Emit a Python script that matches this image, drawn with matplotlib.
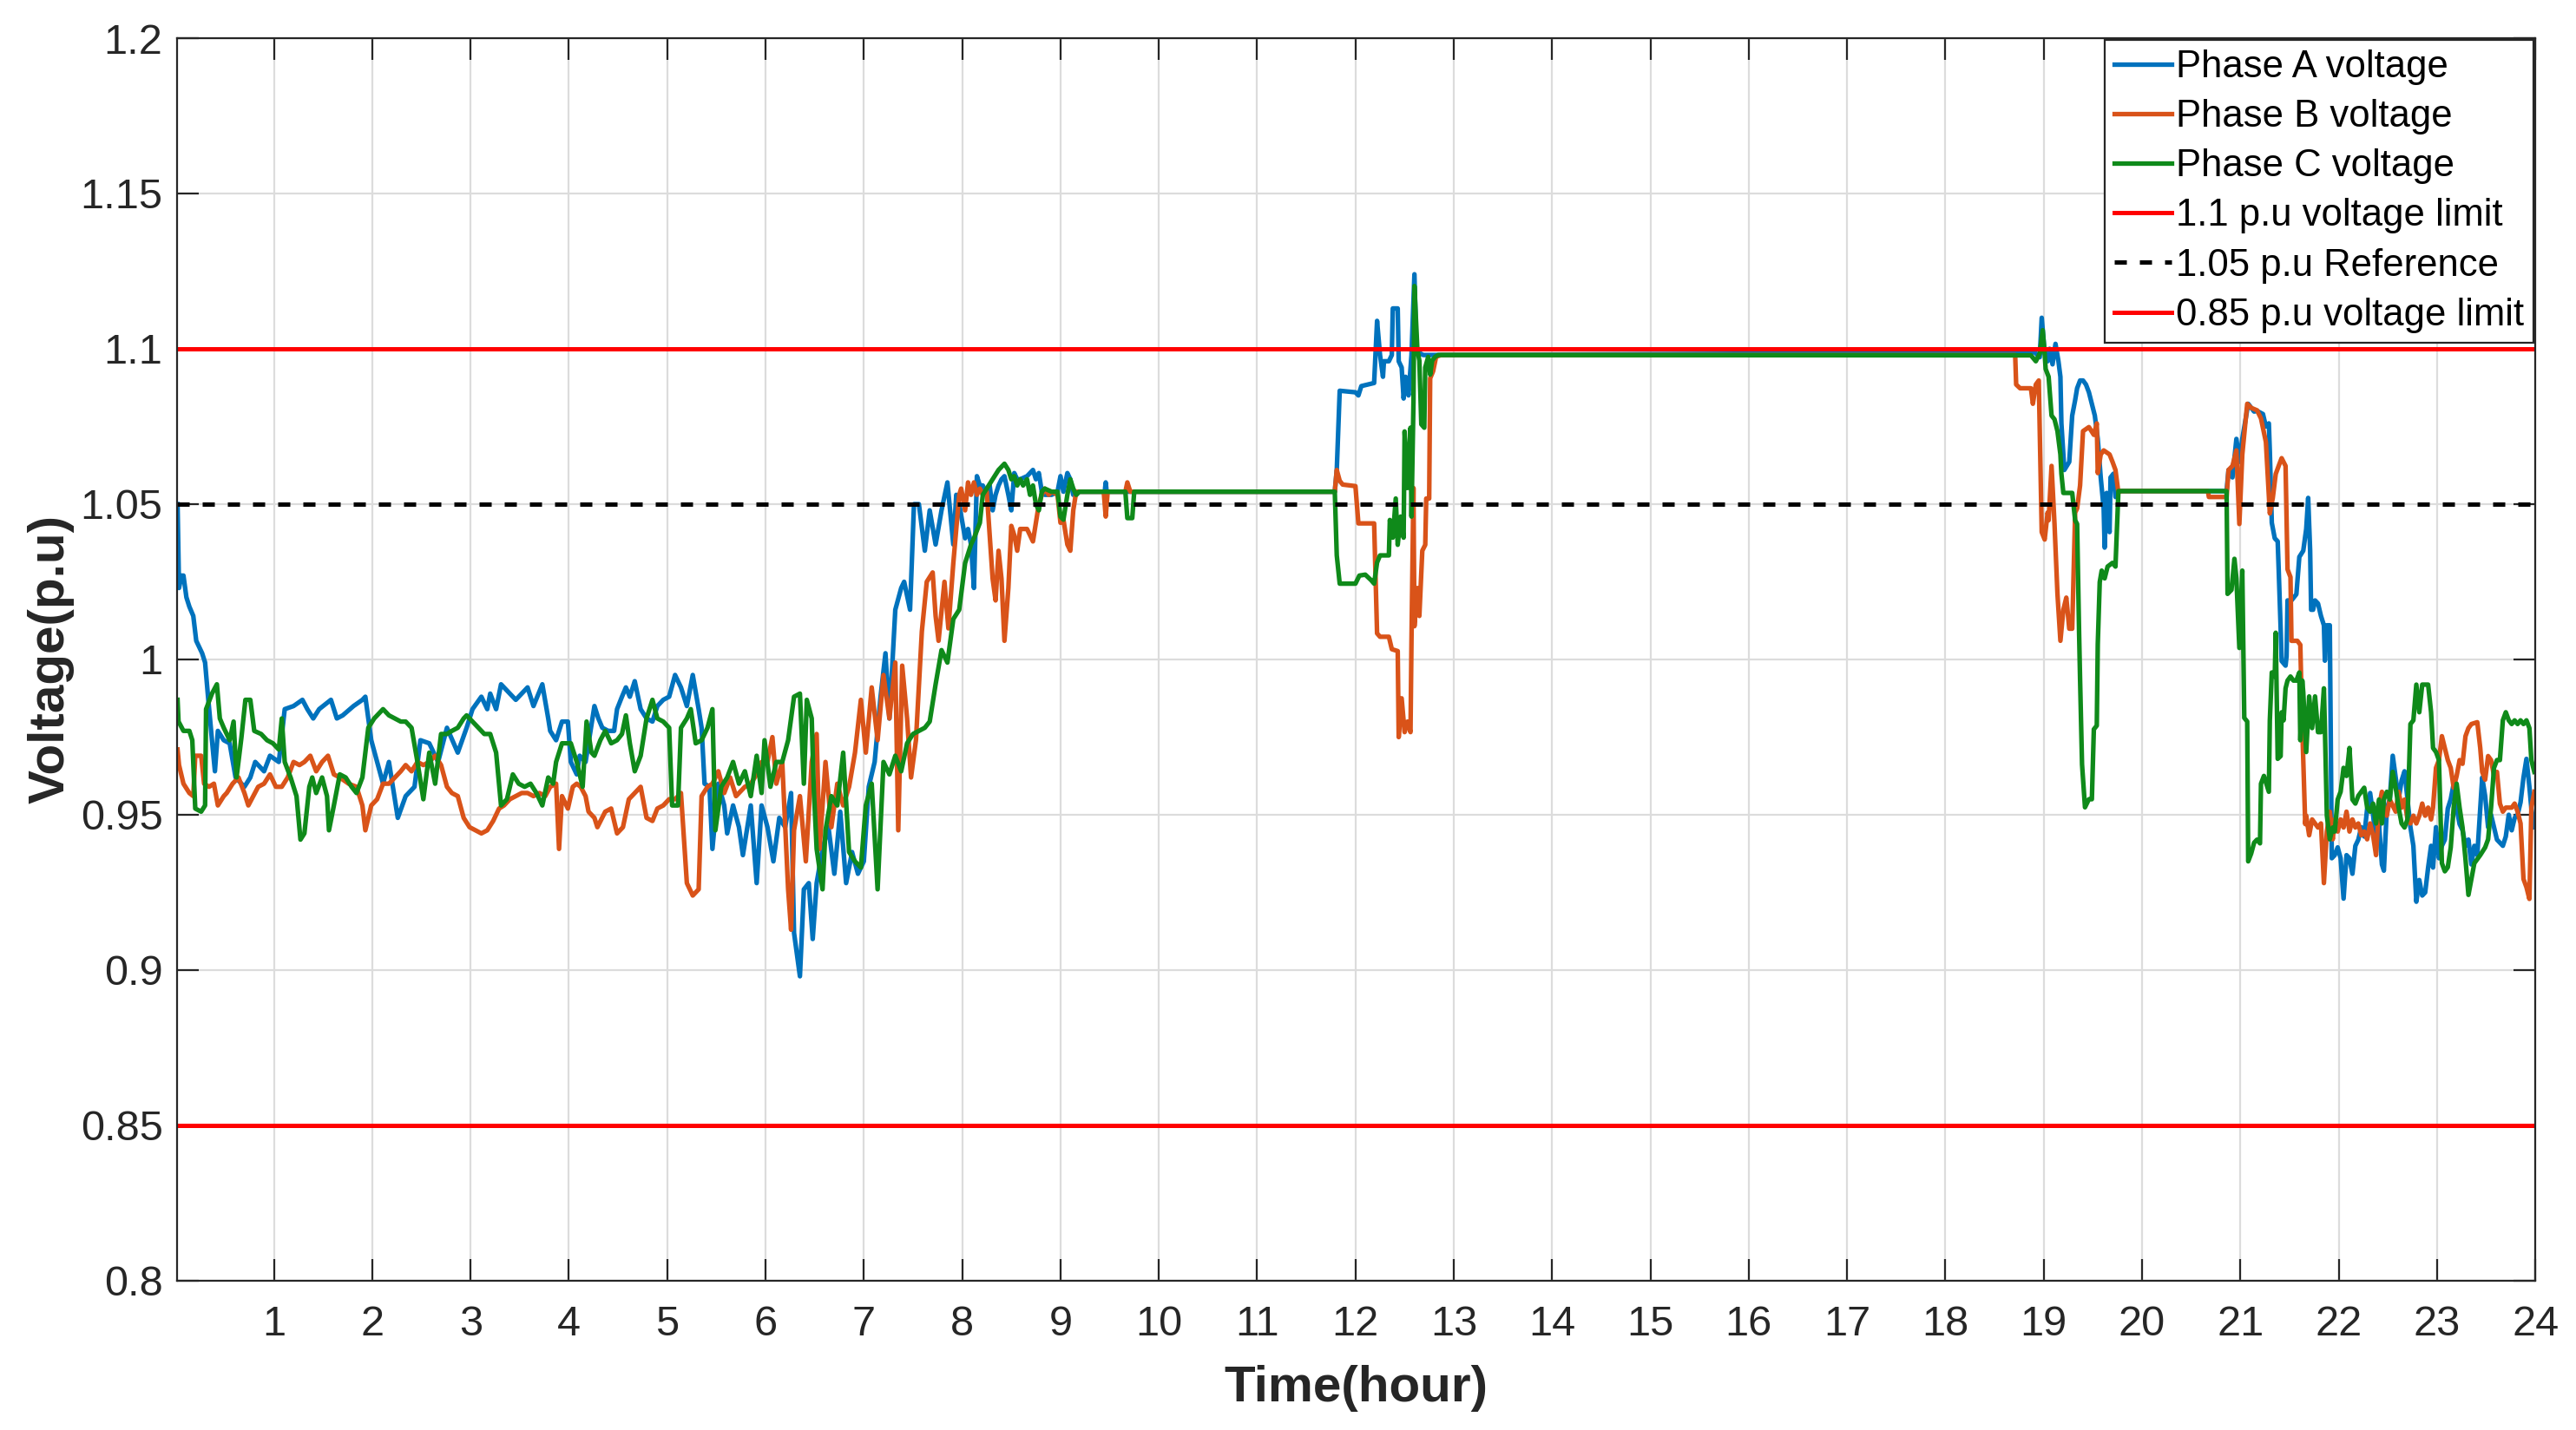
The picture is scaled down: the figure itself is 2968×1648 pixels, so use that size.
import numpy as np
import matplotlib
matplotlib.use("Agg")
import matplotlib.pyplot as plt

plt.rcParams['font.family'] = ['Liberation Sans', 'DejaVu Sans']

# [hour, voltage p.u]
phase_a = np.array([
    [0.02, 1.050], [0.035, 1.023], [0.06, 1.027], [0.08, 1.027], [0.11, 1.020], [0.14, 1.017],
    [0.18, 1.014], [0.21, 1.006], [0.27, 1.002], [0.30, 0.999], [0.33, 0.988], [0.37, 0.974],
    [0.40, 0.964], [0.43, 0.977], [0.49, 0.974], [0.55, 0.973], [0.61, 0.962], [0.70, 0.959],
    [0.76, 0.962], [0.81, 0.967], [0.90, 0.964], [0.96, 0.969], [1.05, 0.967], [1.11, 0.984],
    [1.20, 0.985], [1.29, 0.987], [1.34, 0.984], [1.40, 0.981], [1.46, 0.984], [1.58, 0.987],
    [1.64, 0.981], [1.70, 0.982], [1.81, 0.985], [1.90, 0.987], [1.93, 0.988], [1.99, 0.974],
    [2.11, 0.960], [2.17, 0.967], [2.26, 0.949], [2.34, 0.956], [2.43, 0.959], [2.49, 0.974],
    [2.58, 0.973], [2.67, 0.967], [2.76, 0.978], [2.87, 0.970], [2.96, 0.978], [3.02, 0.984],
    [3.11, 0.988], [3.17, 0.984], [3.20, 0.989], [3.26, 0.984], [3.31, 0.992], [3.40, 0.989],
    [3.46, 0.987], [3.58, 0.991], [3.64, 0.985], [3.73, 0.992], [3.79, 0.981], [3.81, 0.977],
    [3.87, 0.974], [3.93, 0.980], [3.99, 0.980], [4.02, 0.967], [4.08, 0.963], [4.11, 0.969],
    [4.17, 0.967], [4.20, 0.973], [4.26, 0.985], [4.30, 0.981], [4.34, 0.978], [4.40, 0.977],
    [4.46, 0.977], [4.49, 0.984], [4.54, 0.988], [4.58, 0.991], [4.62, 0.988], [4.67, 0.993],
    [4.73, 0.984], [4.79, 0.981], [4.85, 0.980], [4.90, 0.985], [4.96, 0.987], [5.02, 0.988],
    [5.08, 0.995], [5.14, 0.991], [5.20, 0.985], [5.26, 0.995], [5.32, 0.984], [5.35, 0.978],
    [5.38, 0.960], [5.43, 0.959], [5.46, 0.939], [5.52, 0.960], [5.58, 0.953], [5.61, 0.944],
    [5.67, 0.953], [5.73, 0.946], [5.77, 0.937], [5.85, 0.953], [5.91, 0.928], [5.96, 0.953],
    [6.02, 0.946], [6.08, 0.935], [6.14, 0.949], [6.20, 0.946], [6.26, 0.957], [6.29, 0.912],
    [6.35, 0.898], [6.39, 0.926], [6.44, 0.928], [6.48, 0.910], [6.52, 0.928], [6.58, 0.939],
    [6.64, 0.946], [6.70, 0.931], [6.76, 0.951], [6.82, 0.928], [6.88, 0.938], [6.94, 0.931],
    [7.00, 0.935], [7.05, 0.959], [7.11, 0.967], [7.17, 0.988], [7.22, 1.002], [7.26, 0.981],
    [7.32, 1.016], [7.38, 1.023], [7.41, 1.025], [7.47, 1.016], [7.51, 1.050], [7.56, 1.050],
    [7.62, 1.035], [7.67, 1.048], [7.73, 1.037], [7.79, 1.048], [7.85, 1.057], [7.91, 1.037],
    [7.94, 1.053], [7.97, 1.050], [8.03, 1.039], [8.06, 1.042], [8.09, 1.037], [8.12, 1.023],
    [8.15, 1.059], [8.18, 1.056], [8.21, 1.056], [8.25, 1.053], [8.28, 1.056], [8.31, 1.048],
    [8.34, 1.053], [8.37, 1.056], [8.40, 1.058], [8.43, 1.059], [8.47, 1.053], [8.50, 1.048],
    [8.53, 1.060], [8.56, 1.058], [8.59, 1.058], [8.66, 1.059], [8.72, 1.061], [8.75, 1.058],
    [8.78, 1.060], [8.81, 1.054], [8.84, 1.053], [8.91, 1.053], [8.97, 1.054], [9.00, 1.059],
    [9.03, 1.054], [9.07, 1.060], [9.10, 1.058], [9.13, 1.053], [9.16, 1.053], [9.19, 1.054],
    [9.45, 1.054], [9.46, 1.057], [9.47, 1.054], [11.79, 1.054], [11.81, 1.061], [11.84, 1.0865],
    [12.00, 1.086], [12.03, 1.085], [12.06, 1.088], [12.19, 1.089], [12.22, 1.109], [12.25, 1.098],
    [12.28, 1.091], [12.29, 1.096], [12.34, 1.096], [12.37, 1.098], [12.38, 1.113], [12.43, 1.113],
    [12.44, 1.096], [12.47, 1.094], [12.49, 1.084], [12.51, 1.091], [12.54, 1.085], [12.57, 1.098],
    [12.60, 1.124], [12.62, 1.0997], [12.66, 1.0985], [12.69, 1.098], [18.73, 1.0988], [18.87, 1.0985],
    [18.90, 1.0991], [18.96, 1.0973], [18.98, 1.110], [19.01, 1.0985], [19.04, 1.096], [19.06, 1.100],
    [19.09, 1.095], [19.12, 1.1016], [19.15, 1.096], [19.17, 1.091], [19.18, 1.076], [19.21, 1.061],
    [19.26, 1.0636], [19.29, 1.0785], [19.32, 1.0835], [19.34, 1.0873], [19.37, 1.0898], [19.40, 1.0898],
    [19.43, 1.0885], [19.46, 1.086], [19.49, 1.0823], [19.52, 1.0785], [19.55, 1.071], [19.58, 1.0586],
    [19.61, 1.0486], [19.62, 1.036], [19.64, 1.0536], [19.67, 1.041], [19.68, 1.0586], [19.71, 1.0598],
    [19.73, 1.0523], [19.76, 1.0542], [20.86, 1.0542], [20.88, 1.061], [20.92, 1.0586], [20.96, 1.071],
    [20.99, 1.0636], [21.02, 1.071], [21.08, 1.0823], [21.14, 1.0798], [21.17, 1.080], [21.23, 1.079],
    [21.26, 1.075], [21.29, 1.076], [21.30, 1.067], [21.32, 1.044], [21.35, 1.039], [21.38, 1.038],
    [21.39, 1.029], [21.41, 1.010], [21.42, 0.9995], [21.46, 0.998], [21.47, 1.001], [21.48, 1.019],
    [21.52, 1.019], [21.57, 1.021], [21.60, 1.033], [21.64, 1.035], [21.67, 1.042], [21.69, 1.052],
    [21.71, 1.035], [21.72, 1.016], [21.74, 1.016], [21.76, 1.019], [21.79, 1.018], [21.82, 1.014],
    [21.85, 1.011], [21.86, 0.9996], [21.88, 1.011], [21.91, 1.011], [21.92, 0.975], [21.93, 0.936],
    [21.96, 0.937], [21.99, 0.9395], [22.02, 0.936], [22.05, 0.923], [22.08, 0.937], [22.11, 0.936],
    [22.14, 0.931], [22.17, 0.940], [22.20, 0.942], [22.23, 0.946], [22.26, 0.943], [22.29, 0.952],
    [22.32, 0.957], [22.35, 0.950], [22.38, 0.941], [22.41, 0.947], [22.44, 0.934], [22.46, 0.932],
    [22.49, 0.952], [22.52, 0.955], [22.55, 0.969], [22.58, 0.962], [22.61, 0.955], [22.64, 0.961],
    [22.67, 0.964], [22.70, 0.955], [22.73, 0.946], [22.76, 0.940], [22.79, 0.922], [22.82, 0.929],
    [22.85, 0.924], [22.88, 0.925], [22.91, 0.933], [22.94, 0.940], [22.96, 0.933], [22.99, 0.946],
    [23.02, 0.936], [23.05, 0.940], [23.08, 0.942], [23.11, 0.952], [23.14, 0.955], [23.17, 0.960],
    [23.20, 0.952], [23.23, 0.947], [23.26, 0.945], [23.29, 0.940], [23.32, 0.942], [23.35, 0.934],
    [23.38, 0.940], [23.41, 0.937], [23.44, 0.952], [23.46, 0.962], [23.49, 0.956], [23.52, 0.946],
    [23.55, 0.950], [23.58, 0.946], [23.61, 0.942], [23.64, 0.941], [23.67, 0.940], [23.70, 0.943],
    [23.73, 0.950], [23.76, 0.945], [23.79, 0.949], [23.82, 0.950], [23.85, 0.954], [23.88, 0.962],
    [23.91, 0.968], [23.94, 0.959], [23.96, 0.952], [23.99, 0.946],
])

phase_b = np.array([
    [0.02, 0.971], [0.035, 0.966], [0.08, 0.960], [0.14, 0.957], [0.18, 0.956], [0.20, 0.969],
    [0.26, 0.969], [0.29, 0.960], [0.34, 0.959], [0.39, 0.960], [0.43, 0.953], [0.49, 0.956],
    [0.52, 0.957], [0.58, 0.960], [0.64, 0.962], [0.70, 0.957], [0.74, 0.953], [0.79, 0.956],
    [0.84, 0.959], [0.90, 0.960], [0.96, 0.963], [1.02, 0.959], [1.08, 0.959], [1.14, 0.962],
    [1.20, 0.967], [1.26, 0.966], [1.31, 0.967], [1.37, 0.969], [1.43, 0.964], [1.49, 0.967],
    [1.55, 0.969], [1.61, 0.963], [1.67, 0.962], [1.76, 0.960], [1.84, 0.959], [1.90, 0.953],
    [1.93, 0.945], [1.99, 0.953], [2.05, 0.955], [2.11, 0.960], [2.17, 0.960], [2.23, 0.962],
    [2.29, 0.964], [2.34, 0.966], [2.40, 0.964], [2.46, 0.967], [2.52, 0.966], [2.58, 0.967],
    [2.64, 0.969], [2.70, 0.966], [2.76, 0.959], [2.81, 0.957], [2.87, 0.956], [2.93, 0.949],
    [2.99, 0.946], [3.05, 0.945], [3.11, 0.944], [3.17, 0.945], [3.23, 0.948], [3.29, 0.952],
    [3.34, 0.953], [3.40, 0.955], [3.46, 0.956], [3.52, 0.957], [3.58, 0.957], [3.64, 0.956],
    [3.70, 0.957], [3.76, 0.956], [3.81, 0.959], [3.87, 0.960], [3.90, 0.939], [3.93, 0.956],
    [3.99, 0.952], [4.04, 0.959], [4.08, 0.960], [4.12, 0.959], [4.17, 0.956], [4.20, 0.951],
    [4.26, 0.949], [4.29, 0.946], [4.37, 0.951], [4.43, 0.952], [4.49, 0.944], [4.55, 0.946],
    [4.61, 0.955], [4.67, 0.957], [4.73, 0.959], [4.79, 0.949], [4.85, 0.948], [4.90, 0.952],
    [4.96, 0.953], [5.02, 0.955], [5.08, 0.955], [5.14, 0.957], [5.20, 0.928], [5.26, 0.924],
    [5.32, 0.926], [5.35, 0.956], [5.41, 0.959], [5.46, 0.960], [5.52, 0.964], [5.58, 0.957],
    [5.64, 0.962], [5.70, 0.956], [5.79, 0.959], [5.85, 0.960], [5.91, 0.963], [5.96, 0.967],
    [6.02, 0.967], [6.07, 0.975], [6.11, 0.960], [6.17, 0.967], [6.23, 0.926], [6.26, 0.913],
    [6.29, 0.945], [6.35, 0.956], [6.41, 0.935], [6.47, 0.967], [6.52, 0.976], [6.55, 0.939],
    [6.61, 0.967], [6.67, 0.946], [6.73, 0.960], [6.79, 0.953], [6.85, 0.959], [6.91, 0.970],
    [6.97, 0.987], [7.02, 0.970], [7.08, 0.991], [7.14, 0.974], [7.20, 0.995], [7.26, 0.981],
    [7.32, 0.999], [7.35, 0.945], [7.39, 0.998], [7.44, 0.981], [7.48, 0.962], [7.53, 0.974],
    [7.59, 1.009], [7.64, 1.025], [7.70, 1.028], [7.73, 1.014], [7.76, 1.006], [7.82, 1.025],
    [7.86, 1.010], [7.91, 1.031], [7.97, 1.053], [7.99, 1.055], [8.03, 1.048], [8.06, 1.057],
    [8.09, 1.053], [8.12, 1.057], [8.15, 1.053], [8.18, 1.055], [8.21, 1.053], [8.25, 1.054],
    [8.28, 1.040], [8.31, 1.026], [8.34, 1.019], [8.37, 1.035], [8.40, 1.026], [8.43, 1.006],
    [8.47, 1.023], [8.50, 1.043], [8.53, 1.040], [8.56, 1.035], [8.59, 1.042], [8.66, 1.042],
    [8.72, 1.038], [8.75, 1.044], [8.78, 1.050], [8.81, 1.053], [8.84, 1.055], [8.88, 1.053],
    [8.91, 1.054], [8.97, 1.053], [9.00, 1.044], [9.03, 1.045], [9.07, 1.037], [9.10, 1.035],
    [9.13, 1.048], [9.16, 1.054], [9.19, 1.054], [9.44, 1.054], [9.46, 1.046], [9.48, 1.054],
    [9.66, 1.054], [9.68, 1.057], [9.71, 1.054], [11.79, 1.054], [11.81, 1.061], [11.84, 1.0575],
    [11.87, 1.0563], [12.00, 1.0558], [12.03, 1.0438], [12.19, 1.0438], [12.22, 1.0084], [12.25, 1.0073],
    [12.34, 1.0073], [12.37, 1.0033], [12.43, 1.0027], [12.44, 0.975], [12.47, 0.9875], [12.50, 0.9766],
    [12.53, 0.980], [12.56, 0.9766], [12.57, 1.0062], [12.59, 1.0552], [12.60, 1.0107], [12.63, 1.023],
    [12.65, 1.014], [12.68, 1.035], [12.71, 1.0369], [12.72, 1.0518], [12.75, 1.0518], [12.76, 1.0905],
    [12.79, 1.0928], [12.82, 1.0974], [12.87, 1.098], [18.71, 1.098], [18.72, 1.0885], [18.76, 1.0873],
    [18.87, 1.0873], [18.89, 1.0823], [18.92, 1.0885], [18.95, 1.0898], [18.96, 1.0735], [18.98, 1.041],
    [19.01, 1.0386], [19.04, 1.0473], [19.05, 1.0448], [19.08, 1.0623], [19.11, 1.0436], [19.14, 1.0211],
    [19.17, 1.006], [19.20, 1.016], [19.23, 1.0199], [19.26, 1.0099], [19.29, 1.0099], [19.32, 1.0473],
    [19.34, 1.0486], [19.37, 1.056], [19.40, 1.0735], [19.46, 1.0748], [19.51, 1.0723], [19.54, 1.076],
    [19.55, 1.060], [19.58, 1.066], [19.61, 1.0673], [19.67, 1.066], [19.70, 1.0636], [19.73, 1.061],
    [19.76, 1.0536], [19.77, 1.0542], [20.67, 1.0542], [20.68, 1.0523], [20.86, 1.0523], [20.88, 1.061],
    [20.92, 1.0623], [20.96, 1.0673], [20.99, 1.0436], [21.02, 1.066], [21.07, 1.0823], [21.11, 1.081],
    [21.17, 1.0802], [21.21, 1.0776], [21.26, 1.070], [21.30, 1.047], [21.33, 1.052], [21.36, 1.0597],
    [21.39, 1.0623], [21.42, 1.0648], [21.46, 1.0623], [21.48, 1.029], [21.51, 1.0265], [21.52, 1.006],
    [21.58, 1.006], [21.61, 1.0047], [21.63, 0.978], [21.66, 0.947], [21.67, 0.9497], [21.70, 0.9434],
    [21.73, 0.9485], [21.76, 0.9472], [21.79, 0.9459], [21.82, 0.9472], [21.85, 0.928], [21.88, 0.9446],
    [21.91, 0.951], [21.94, 0.9421], [21.96, 0.9485], [21.99, 0.9446], [22.02, 0.9485], [22.05, 0.9459],
    [22.08, 0.951], [22.11, 0.9446], [22.14, 0.9485], [22.17, 0.9459], [22.20, 0.9472], [22.23, 0.9434],
    [22.26, 0.9446], [22.29, 0.9421], [22.32, 0.9472], [22.35, 0.9434], [22.38, 0.937], [22.41, 0.9523],
    [22.44, 0.9574], [22.46, 0.9523], [22.49, 0.9497], [22.52, 0.9549], [22.58, 0.951], [22.61, 0.9574],
    [22.64, 0.9523], [22.67, 0.9549], [22.70, 0.9485], [22.73, 0.9472], [22.76, 0.9497], [22.79, 0.9472],
    [22.82, 0.9497], [22.85, 0.9536], [22.88, 0.9497], [22.91, 0.9523], [22.94, 0.9485], [22.96, 0.9523],
    [22.99, 0.9651], [23.02, 0.9676], [23.05, 0.9753], [23.08, 0.9715], [23.11, 0.9676], [23.14, 0.9651],
    [23.17, 0.9587], [23.20, 0.9625], [23.23, 0.9676], [23.26, 0.9664], [23.29, 0.9753], [23.32, 0.9779],
    [23.35, 0.9792], [23.41, 0.9798], [23.44, 0.9715], [23.46, 0.9638], [23.49, 0.9613], [23.52, 0.9689],
    [23.55, 0.9676], [23.58, 0.9625], [23.61, 0.9638], [23.64, 0.9536], [23.67, 0.951], [23.70, 0.9523],
    [23.76, 0.9523], [23.79, 0.9536], [23.82, 0.951], [23.85, 0.9472], [23.88, 0.9293], [23.91, 0.9267],
    [23.94, 0.9229], [23.96, 0.9523], [23.99, 0.9574],
])

phase_c = np.array([
    [0.02, 0.987], [0.03, 0.980], [0.08, 0.977], [0.14, 0.977], [0.17, 0.974], [0.20, 0.952],
    [0.26, 0.951], [0.30, 0.953], [0.31, 0.984], [0.37, 0.989], [0.42, 0.992], [0.45, 0.981],
    [0.49, 0.978], [0.55, 0.974], [0.59, 0.980], [0.62, 0.962], [0.67, 0.975], [0.71, 0.987],
    [0.76, 0.987], [0.80, 0.977], [0.87, 0.976], [0.93, 0.974], [0.99, 0.973], [1.05, 0.971],
    [1.08, 0.981], [1.11, 0.967], [1.17, 0.962], [1.23, 0.956], [1.27, 0.942], [1.31, 0.944],
    [1.36, 0.959], [1.39, 0.962], [1.43, 0.957], [1.49, 0.962], [1.54, 0.956], [1.56, 0.945],
    [1.61, 0.953], [1.67, 0.963], [1.73, 0.962], [1.79, 0.959], [1.84, 0.957], [1.90, 0.962],
    [1.96, 0.978], [2.02, 0.981], [2.11, 0.984], [2.17, 0.982], [2.23, 0.981], [2.29, 0.980],
    [2.34, 0.980], [2.40, 0.978], [2.46, 0.967], [2.52, 0.955], [2.58, 0.970], [2.64, 0.960],
    [2.70, 0.976], [2.76, 0.976], [2.81, 0.977], [2.87, 0.978], [2.93, 0.981], [2.96, 0.982],
    [3.02, 0.980], [3.08, 0.978], [3.14, 0.976], [3.20, 0.976], [3.26, 0.970], [3.31, 0.953],
    [3.37, 0.955], [3.43, 0.963], [3.49, 0.960], [3.55, 0.959], [3.61, 0.960], [3.67, 0.957],
    [3.73, 0.953], [3.79, 0.962], [3.84, 0.960], [3.87, 0.967], [3.93, 0.973], [3.96, 0.973],
    [4.02, 0.973], [4.08, 0.967], [4.14, 0.959], [4.18, 0.980], [4.23, 0.970], [4.26, 0.969],
    [4.32, 0.974], [4.37, 0.977], [4.43, 0.973], [4.49, 0.974], [4.54, 0.976], [4.58, 0.982],
    [4.62, 0.973], [4.67, 0.964], [4.73, 0.969], [4.79, 0.981], [4.85, 0.987], [4.90, 0.981],
    [4.96, 0.980], [5.02, 0.978], [5.05, 0.953], [5.11, 0.953], [5.14, 0.978], [5.20, 0.981],
    [5.24, 0.984], [5.29, 0.973], [5.35, 0.974], [5.41, 0.978], [5.46, 0.984], [5.49, 0.945],
    [5.55, 0.959], [5.61, 0.962], [5.67, 0.967], [5.73, 0.960], [5.79, 0.964], [5.85, 0.956],
    [5.91, 0.969], [5.96, 0.957], [5.99, 0.974], [6.05, 0.959], [6.11, 0.967], [6.17, 0.967],
    [6.23, 0.974], [6.29, 0.988], [6.35, 0.989], [6.39, 0.960], [6.42, 0.987], [6.47, 0.981],
    [6.49, 0.959], [6.52, 0.939], [6.58, 0.926], [6.61, 0.945], [6.67, 0.956], [6.73, 0.953],
    [6.79, 0.970], [6.85, 0.938], [6.91, 0.935], [6.97, 0.933], [7.02, 0.953], [7.08, 0.960],
    [7.14, 0.926], [7.20, 0.967], [7.26, 0.963], [7.32, 0.969], [7.38, 0.964], [7.44, 0.973],
    [7.50, 0.976], [7.56, 0.977], [7.62, 0.978], [7.67, 0.980], [7.73, 0.992], [7.79, 1.003],
    [7.85, 0.999], [7.91, 1.013], [7.97, 1.016], [7.99, 1.021], [8.03, 1.031], [8.06, 1.034],
    [8.09, 1.037], [8.12, 1.039], [8.18, 1.044], [8.21, 1.053], [8.25, 1.055], [8.31, 1.058],
    [8.37, 1.061], [8.40, 1.062], [8.43, 1.063], [8.47, 1.061], [8.50, 1.058], [8.53, 1.059],
    [8.56, 1.056], [8.59, 1.058], [8.62, 1.056], [8.66, 1.058], [8.69, 1.053], [8.72, 1.056],
    [8.75, 1.050], [8.78, 1.048], [8.81, 1.054], [8.84, 1.055], [8.91, 1.054], [8.97, 1.054],
    [9.00, 1.046], [9.03, 1.045], [9.07, 1.053], [9.10, 1.058], [9.13, 1.055], [9.16, 1.053],
    [9.19, 1.054], [9.66, 1.054], [9.68, 1.0455], [9.73, 1.0455], [9.75, 1.054], [11.79, 1.054],
    [11.81, 1.0335], [11.84, 1.0244], [12.00, 1.0244], [12.04, 1.027], [12.10, 1.0273], [12.16, 1.0255],
    [12.19, 1.0244], [12.22, 1.0312], [12.25, 1.0335], [12.34, 1.0335], [12.35, 1.0449], [12.38, 1.0392],
    [12.41, 1.0518], [12.43, 1.0369], [12.46, 1.046], [12.49, 1.0392], [12.50, 1.0734], [12.53, 1.0552],
    [12.56, 1.0746], [12.57, 1.046], [12.59, 1.0826], [12.60, 1.1202], [12.63, 1.0997], [12.65, 1.0962],
    [12.67, 1.0757], [12.70, 1.0746], [12.71, 1.094], [12.74, 1.0974], [12.76, 1.0917], [12.78, 1.0962],
    [12.81, 1.0974], [12.84, 1.098], [18.73, 1.0979], [18.87, 1.0979], [18.92, 1.096], [18.96, 1.0985],
    [18.99, 1.106], [19.01, 1.0985], [19.02, 1.0935], [19.05, 1.091], [19.08, 1.0785], [19.11, 1.0773],
    [19.14, 1.0735], [19.17, 1.066], [19.18, 1.0598], [19.20, 1.0536], [19.29, 1.0536], [19.32, 1.0448],
    [19.34, 1.0436], [19.36, 1.0087], [19.37, 0.9937], [19.39, 0.9662], [19.42, 0.9524], [19.46, 0.955],
    [19.49, 0.955], [19.51, 0.9775], [19.54, 0.9787], [19.55, 1.0049], [19.57, 1.0249], [19.59, 1.0286],
    [19.62, 1.0261], [19.65, 1.0299], [19.70, 1.0311], [19.73, 1.0299], [19.76, 1.0542], [20.86, 1.0542],
    [20.87, 1.0211], [20.91, 1.0224], [20.94, 1.0324], [20.96, 1.0261], [20.99, 1.0037], [21.02, 1.0286],
    [21.04, 0.9812], [21.07, 0.980], [21.08, 0.935], [21.11, 0.9375], [21.14, 0.941], [21.17, 0.942],
    [21.20, 0.9408], [21.21, 0.960], [21.24, 0.9625], [21.29, 0.9574], [21.30, 0.9804], [21.32, 0.9958],
    [21.35, 0.9945], [21.36, 1.0086], [21.38, 0.968], [21.41, 0.9689], [21.42, 0.983], [21.44, 0.9804],
    [21.46, 0.9907], [21.48, 0.9932], [21.51, 0.9945], [21.54, 0.9932], [21.57, 0.9932], [21.60, 0.9958],
    [21.61, 0.974], [21.63, 0.9932], [21.64, 0.9894], [21.67, 0.9702], [21.70, 0.9881], [21.73, 0.9779],
    [21.76, 0.9881], [21.79, 0.9766], [21.82, 0.9766], [21.85, 0.9907], [21.86, 0.9779], [21.88, 0.9497],
    [21.91, 0.9421], [21.94, 0.9459], [21.96, 0.9446], [21.99, 0.9549], [22.02, 0.9574], [22.05, 0.9651],
    [22.08, 0.9625], [22.11, 0.9715], [22.14, 0.9549], [22.17, 0.9536], [22.20, 0.9561], [22.23, 0.9574],
    [22.26, 0.9587], [22.29, 0.9523], [22.32, 0.951], [22.35, 0.9536], [22.38, 0.9472], [22.41, 0.9549],
    [22.44, 0.9472], [22.46, 0.9549], [22.49, 0.9574], [22.52, 0.9549], [22.55, 0.9638], [22.58, 0.9587],
    [22.61, 0.9523], [22.64, 0.9472], [22.67, 0.9459], [22.70, 0.9485], [22.73, 0.9792], [22.76, 0.9804],
    [22.79, 0.9919], [22.82, 0.983], [22.85, 0.9919], [22.91, 0.9919], [22.94, 0.983], [22.96, 0.9715],
    [22.99, 0.9702], [23.02, 0.9676], [23.05, 0.9344], [23.08, 0.9318], [23.11, 0.9331], [23.14, 0.9395],
    [23.17, 0.9523], [23.20, 0.960], [23.23, 0.9523], [23.26, 0.9459], [23.29, 0.9357], [23.32, 0.9242],
    [23.35, 0.9293], [23.38, 0.9344], [23.41, 0.9357], [23.44, 0.937], [23.49, 0.9395], [23.52, 0.9421],
    [23.55, 0.9523], [23.58, 0.9651], [23.61, 0.9676], [23.64, 0.9676], [23.67, 0.9804], [23.70, 0.983],
    [23.73, 0.9804], [23.76, 0.9792], [23.79, 0.9804], [23.82, 0.9792], [23.85, 0.9804], [23.88, 0.9792],
    [23.91, 0.9804], [23.94, 0.9779], [23.96, 0.9676], [23.99, 0.9638],
])

upper_limit = 1.1
reference = 1.05
lower_limit = 0.85

x_ticks = list(range(1, 25))
y_ticks = [0.8, 0.85, 0.9, 0.95, 1.0, 1.05, 1.1, 1.15, 1.2]
y_labels = ["0.8", "0.85", "0.9", "0.95", "1", "1.05", "1.1", "1.15", "1.2"]

fig = plt.figure(figsize=(14.84, 8.24), dpi=200)
ax = fig.add_axes([0.0688, 0.1044, 0.9154, 0.8689])

ax.plot(phase_a[:, 0], phase_a[:, 1], color="#0072BD", lw=1.9, label="Phase A voltage")
ax.plot(phase_b[:, 0], phase_b[:, 1], color="#D95319", lw=1.9, label="Phase B voltage")
ax.plot(phase_c[:, 0], phase_c[:, 1], color="#0F8A1A", lw=1.9, label="Phase C voltage")
ax.axhline(upper_limit, color="#FF0000", lw=1.8, label="1.1 p.u voltage limit")
ax.axhline(reference, color="k", lw=1.8, ls=(0, (2.8, 3.0)), label="1.05 p.u Reference")
ax.axhline(lower_limit, color="#FF0000", lw=1.8, label="0.85 p.u voltage limit")

ax.set_xlim(1 / 60, 24)
ax.set_ylim(0.8, 1.2)
ax.set_xticks(x_ticks)
ax.set_yticks(y_ticks)
ax.set_yticklabels(y_labels)
ax.grid(True, color="#dcdcdc", lw=0.8)
ax.set_axisbelow(True)
ax.tick_params(direction="in", length=9, width=0.8, top=True, right=True,
               labelsize=17.5, colors="#262626")
ax.tick_params(axis="x", pad=10)
ax.tick_params(axis="y", pad=6)
for s in ax.spines.values():
    s.set_color("#262626")
    s.set_linewidth(0.8)

ax.set_xlabel("Time(hour)", fontsize=21, fontweight="bold", color="#262626")
ax.set_ylabel("Voltage(p.u)", fontsize=21, fontweight="bold", color="#262626")
ax.xaxis.set_label_coords(0.5, -0.068)
ax.yaxis.set_label_coords(-0.0437, 0.5)

leg = ax.legend(loc="upper right", fontsize=15.7, frameon=True, fancybox=False,
                framealpha=1, edgecolor="#262626", borderpad=0.25, labelspacing=0.37,
                handlelength=1.5, handletextpad=0.12, borderaxespad=0.05)
leg.get_frame().set_linewidth(0.8)

fig.savefig("out.png", dpi=200)
